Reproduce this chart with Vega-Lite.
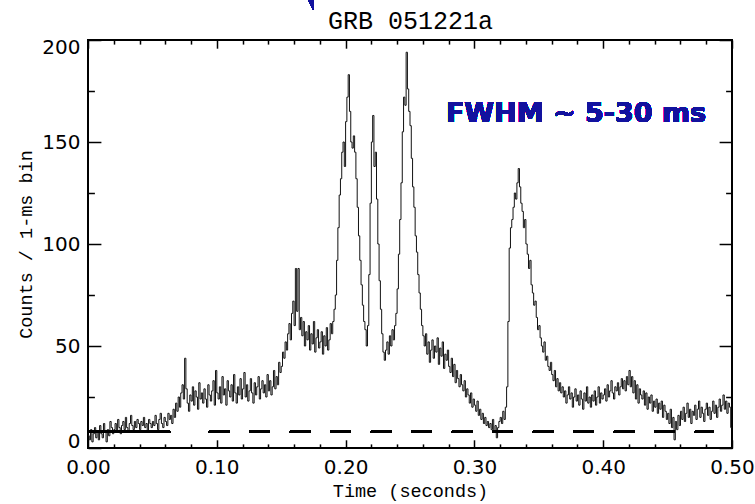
{
"$schema": "https://vega.github.io/schema/vega-lite/v6.json",
"width": 644, "height": 408,
"autosize": {"type": "none"},
"padding": {"left": 88, "top": 40, "right": 23, "bottom": 56},
"background": "white",
"config": {
 "view": {"stroke": "black", "strokeWidth": 2},
 "axis": {"grid": false, "domain": false, "labelFlush": false, "labelOverlap": false, "tickColor": "black", "tickWidth": 1.5, "labelColor": "black", "titleColor": "black", "labelFont": "DejaVu Sans", "labelFontSize": 20, "titleFont": "Liberation Mono", "titleFontSize": 18.5, "titleFontWeight": "normal"}
},
"data": {"values": [
{"t":0.000,"c":6},{"t":0.001,"c":4},{"t":0.002,"c":9},{"t":0.003,"c":3},{"t":0.004,"c":7},{"t":0.005,"c":10},{"t":0.006,"c":5},{"t":0.007,"c":8},{"t":0.008,"c":4},{"t":0.009,"c":11},
{"t":0.010,"c":7},{"t":0.011,"c":5},{"t":0.012,"c":12},{"t":0.013,"c":8},{"t":0.014,"c":3},{"t":0.015,"c":9},{"t":0.016,"c":6},{"t":0.017,"c":13},{"t":0.018,"c":10},{"t":0.019,"c":7},
{"t":0.020,"c":9},{"t":0.021,"c":12},{"t":0.022,"c":8},{"t":0.023,"c":14},{"t":0.024,"c":10},{"t":0.025,"c":7},{"t":0.026,"c":11},{"t":0.027,"c":13},{"t":0.028,"c":9},{"t":0.029,"c":15},
{"t":0.030,"c":10},{"t":0.031,"c":8},{"t":0.032,"c":12},{"t":0.033,"c":16},{"t":0.034,"c":11},{"t":0.035,"c":9},{"t":0.036,"c":13},{"t":0.037,"c":10},{"t":0.038,"c":14},{"t":0.039,"c":12},
{"t":0.040,"c":9},{"t":0.041,"c":13},{"t":0.042,"c":11},{"t":0.043,"c":15},{"t":0.044,"c":10},{"t":0.045,"c":12},{"t":0.046,"c":8},{"t":0.047,"c":14},{"t":0.048,"c":12},{"t":0.049,"c":10},
{"t":0.050,"c":13},{"t":0.051,"c":11},{"t":0.052,"c":16},{"t":0.053,"c":12},{"t":0.054,"c":9},{"t":0.055,"c":14},{"t":0.056,"c":17},{"t":0.057,"c":12},{"t":0.058,"c":10},{"t":0.059,"c":15},
{"t":0.060,"c":13},{"t":0.061,"c":11},{"t":0.062,"c":17},{"t":0.063,"c":14},{"t":0.064,"c":16},{"t":0.065,"c":12},{"t":0.066,"c":19},{"t":0.067,"c":15},{"t":0.068,"c":22},{"t":0.069,"c":18},
{"t":0.070,"c":25},{"t":0.071,"c":20},{"t":0.072,"c":27},{"t":0.073,"c":31},{"t":0.074,"c":24},{"t":0.075,"c":44},{"t":0.076,"c":29},{"t":0.077,"c":22},{"t":0.078,"c":18},{"t":0.079,"c":26},
{"t":0.080,"c":23},{"t":0.081,"c":30},{"t":0.082,"c":21},{"t":0.083,"c":28},{"t":0.084,"c":25},{"t":0.085,"c":19},{"t":0.086,"c":32},{"t":0.087,"c":24},{"t":0.088,"c":27},{"t":0.089,"c":22},
{"t":0.090,"c":29},{"t":0.091,"c":24},{"t":0.092,"c":20},{"t":0.093,"c":31},{"t":0.094,"c":26},{"t":0.095,"c":23},{"t":0.096,"c":28},{"t":0.097,"c":33},{"t":0.098,"c":21},{"t":0.099,"c":38},
{"t":0.100,"c":27},{"t":0.101,"c":24},{"t":0.102,"c":30},{"t":0.103,"c":22},{"t":0.104,"c":35},{"t":0.105,"c":26},{"t":0.106,"c":29},{"t":0.107,"c":21},{"t":0.108,"c":33},{"t":0.109,"c":28},
{"t":0.110,"c":25},{"t":0.111,"c":31},{"t":0.112,"c":23},{"t":0.113,"c":36},{"t":0.114,"c":27},{"t":0.115,"c":22},{"t":0.116,"c":30},{"t":0.117,"c":26},{"t":0.118,"c":34},{"t":0.119,"c":24},
{"t":0.120,"c":29},{"t":0.121,"c":37},{"t":0.122,"c":25},{"t":0.123,"c":31},{"t":0.124,"c":23},{"t":0.125,"c":28},{"t":0.126,"c":34},{"t":0.127,"c":27},{"t":0.128,"c":22},{"t":0.129,"c":32},
{"t":0.130,"c":26},{"t":0.131,"c":30},{"t":0.132,"c":35},{"t":0.133,"c":24},{"t":0.134,"c":29},{"t":0.135,"c":33},{"t":0.136,"c":27},{"t":0.137,"c":31},{"t":0.138,"c":25},{"t":0.139,"c":36},
{"t":0.140,"c":28},{"t":0.141,"c":33},{"t":0.142,"c":26},{"t":0.143,"c":30},{"t":0.144,"c":38},{"t":0.145,"c":29},{"t":0.146,"c":35},{"t":0.147,"c":31},{"t":0.148,"c":42},{"t":0.149,"c":37},
{"t":0.150,"c":40},{"t":0.151,"c":47},{"t":0.152,"c":44},{"t":0.153,"c":52},{"t":0.154,"c":48},{"t":0.155,"c":56},{"t":0.156,"c":61},{"t":0.157,"c":53},{"t":0.158,"c":66},{"t":0.159,"c":72},
{"t":0.160,"c":60},{"t":0.161,"c":88},{"t":0.162,"c":67},{"t":0.163,"c":88},{"t":0.164,"c":58},{"t":0.165,"c":64},{"t":0.166,"c":55},{"t":0.167,"c":62},{"t":0.168,"c":50},{"t":0.169,"c":57},
{"t":0.170,"c":53},{"t":0.171,"c":60},{"t":0.172,"c":48},{"t":0.173,"c":56},{"t":0.174,"c":51},{"t":0.175,"c":62},{"t":0.176,"c":47},{"t":0.177,"c":54},{"t":0.178,"c":58},{"t":0.179,"c":49},
{"t":0.180,"c":52},{"t":0.181,"c":57},{"t":0.182,"c":46},{"t":0.183,"c":55},{"t":0.184,"c":50},{"t":0.185,"c":59},{"t":0.186,"c":48},{"t":0.187,"c":53},{"t":0.188,"c":61},{"t":0.189,"c":56},
{"t":0.190,"c":62},{"t":0.191,"c":68},{"t":0.192,"c":75},{"t":0.193,"c":92},{"t":0.194,"c":108},{"t":0.195,"c":124},{"t":0.196,"c":132},{"t":0.197,"c":145},{"t":0.198,"c":150},{"t":0.199,"c":138},
{"t":0.200,"c":160},{"t":0.201,"c":172},{"t":0.202,"c":183},{"t":0.203,"c":165},{"t":0.204,"c":150},{"t":0.205,"c":147},{"t":0.206,"c":153},{"t":0.207,"c":145},{"t":0.208,"c":132},{"t":0.209,"c":118},
{"t":0.210,"c":104},{"t":0.211,"c":92},{"t":0.212,"c":80},{"t":0.213,"c":70},{"t":0.214,"c":62},{"t":0.215,"c":58},{"t":0.216,"c":50},{"t":0.217,"c":60},{"t":0.218,"c":85},{"t":0.219,"c":120},
{"t":0.220,"c":150},{"t":0.221,"c":163},{"t":0.222,"c":138},{"t":0.223,"c":145},{"t":0.224,"c":122},{"t":0.225,"c":100},{"t":0.226,"c":82},{"t":0.227,"c":68},{"t":0.228,"c":56},{"t":0.229,"c":47},
{"t":0.230,"c":43},{"t":0.231,"c":48},{"t":0.232,"c":52},{"t":0.233,"c":46},{"t":0.234,"c":55},{"t":0.235,"c":50},{"t":0.236,"c":58},{"t":0.237,"c":53},{"t":0.238,"c":60},{"t":0.239,"c":66},
{"t":0.240,"c":78},{"t":0.241,"c":95},{"t":0.242,"c":112},{"t":0.243,"c":130},{"t":0.244,"c":155},{"t":0.245,"c":172},{"t":0.246,"c":168},{"t":0.247,"c":194},{"t":0.248,"c":176},{"t":0.249,"c":165},
{"t":0.250,"c":158},{"t":0.251,"c":142},{"t":0.252,"c":128},{"t":0.253,"c":118},{"t":0.254,"c":104},{"t":0.255,"c":96},{"t":0.256,"c":85},{"t":0.257,"c":76},{"t":0.258,"c":68},{"t":0.259,"c":60},
{"t":0.260,"c":55},{"t":0.261,"c":50},{"t":0.262,"c":56},{"t":0.263,"c":46},{"t":0.264,"c":52},{"t":0.265,"c":42},{"t":0.266,"c":48},{"t":0.267,"c":53},{"t":0.268,"c":44},{"t":0.269,"c":50},
{"t":0.270,"c":47},{"t":0.271,"c":54},{"t":0.272,"c":41},{"t":0.273,"c":49},{"t":0.274,"c":45},{"t":0.275,"c":52},{"t":0.276,"c":39},{"t":0.277,"c":46},{"t":0.278,"c":43},{"t":0.279,"c":48},
{"t":0.280,"c":40},{"t":0.281,"c":37},{"t":0.282,"c":44},{"t":0.283,"c":35},{"t":0.284,"c":41},{"t":0.285,"c":32},{"t":0.286,"c":38},{"t":0.287,"c":34},{"t":0.288,"c":30},{"t":0.289,"c":36},
{"t":0.290,"c":31},{"t":0.291,"c":28},{"t":0.292,"c":33},{"t":0.293,"c":25},{"t":0.294,"c":29},{"t":0.295,"c":26},{"t":0.296,"c":22},{"t":0.297,"c":27},{"t":0.298,"c":20},{"t":0.299,"c":24},
{"t":0.300,"c":21},{"t":0.301,"c":18},{"t":0.302,"c":23},{"t":0.303,"c":16},{"t":0.304,"c":19},{"t":0.305,"c":14},{"t":0.306,"c":17},{"t":0.307,"c":12},{"t":0.308,"c":15},{"t":0.309,"c":11},
{"t":0.310,"c":13},{"t":0.311,"c":10},{"t":0.312,"c":12},{"t":0.313,"c":9},{"t":0.314,"c":14},{"t":0.315,"c":8},{"t":0.316,"c":11},{"t":0.317,"c":5},{"t":0.318,"c":10},{"t":0.319,"c":13},
{"t":0.320,"c":15},{"t":0.321,"c":12},{"t":0.322,"c":18},{"t":0.323,"c":14},{"t":0.324,"c":20},{"t":0.325,"c":30},{"t":0.326,"c":62},{"t":0.327,"c":98},{"t":0.328,"c":108},{"t":0.329,"c":112},
{"t":0.330,"c":118},{"t":0.331,"c":125},{"t":0.332,"c":122},{"t":0.333,"c":130},{"t":0.334,"c":137},{"t":0.335,"c":128},{"t":0.336,"c":120},{"t":0.337,"c":116},{"t":0.338,"c":108},{"t":0.339,"c":112},
{"t":0.340,"c":100},{"t":0.341,"c":95},{"t":0.342,"c":88},{"t":0.343,"c":92},{"t":0.344,"c":80},{"t":0.345,"c":76},{"t":0.346,"c":70},{"t":0.347,"c":72},{"t":0.348,"c":64},{"t":0.349,"c":58},
{"t":0.350,"c":60},{"t":0.351,"c":54},{"t":0.352,"c":50},{"t":0.353,"c":47},{"t":0.354,"c":52},{"t":0.355,"c":43},{"t":0.356,"c":45},{"t":0.357,"c":40},{"t":0.358,"c":38},{"t":0.359,"c":42},
{"t":0.360,"c":36},{"t":0.361,"c":33},{"t":0.362,"c":38},{"t":0.363,"c":30},{"t":0.364,"c":34},{"t":0.365,"c":28},{"t":0.366,"c":32},{"t":0.367,"c":27},{"t":0.368,"c":30},{"t":0.369,"c":25},
{"t":0.370,"c":28},{"t":0.371,"c":22},{"t":0.372,"c":26},{"t":0.373,"c":30},{"t":0.374,"c":24},{"t":0.375,"c":27},{"t":0.376,"c":20},{"t":0.377,"c":25},{"t":0.378,"c":29},{"t":0.379,"c":23},
{"t":0.380,"c":26},{"t":0.381,"c":21},{"t":0.382,"c":28},{"t":0.383,"c":24},{"t":0.384,"c":19},{"t":0.385,"c":27},{"t":0.386,"c":23},{"t":0.387,"c":30},{"t":0.388,"c":22},{"t":0.389,"c":25},
{"t":0.390,"c":20},{"t":0.391,"c":26},{"t":0.392,"c":23},{"t":0.393,"c":28},{"t":0.394,"c":21},{"t":0.395,"c":25},{"t":0.396,"c":30},{"t":0.397,"c":22},{"t":0.398,"c":27},{"t":0.399,"c":24},
{"t":0.400,"c":26},{"t":0.401,"c":29},{"t":0.402,"c":23},{"t":0.403,"c":31},{"t":0.404,"c":25},{"t":0.405,"c":28},{"t":0.406,"c":33},{"t":0.407,"c":27},{"t":0.408,"c":24},{"t":0.409,"c":30},
{"t":0.410,"c":28},{"t":0.411,"c":32},{"t":0.412,"c":26},{"t":0.413,"c":30},{"t":0.414,"c":34},{"t":0.415,"c":29},{"t":0.416,"c":33},{"t":0.417,"c":28},{"t":0.418,"c":35},{"t":0.419,"c":31},
{"t":0.420,"c":38},{"t":0.421,"c":30},{"t":0.422,"c":35},{"t":0.423,"c":27},{"t":0.424,"c":33},{"t":0.425,"c":24},{"t":0.426,"c":31},{"t":0.427,"c":22},{"t":0.428,"c":29},{"t":0.429,"c":26},
{"t":0.430,"c":24},{"t":0.431,"c":28},{"t":0.432,"c":21},{"t":0.433,"c":27},{"t":0.434,"c":19},{"t":0.435,"c":25},{"t":0.436,"c":22},{"t":0.437,"c":26},{"t":0.438,"c":18},{"t":0.439,"c":23},
{"t":0.440,"c":20},{"t":0.441,"c":24},{"t":0.442,"c":17},{"t":0.443,"c":22},{"t":0.444,"c":19},{"t":0.445,"c":23},{"t":0.446,"c":15},{"t":0.447,"c":21},{"t":0.448,"c":18},{"t":0.449,"c":14},
{"t":0.450,"c":17},{"t":0.451,"c":12},{"t":0.452,"c":19},{"t":0.453,"c":10},{"t":0.454,"c":15},{"t":0.455,"c":4},{"t":0.456,"c":13},{"t":0.457,"c":9},{"t":0.458,"c":16},{"t":0.459,"c":11},
{"t":0.460,"c":18},{"t":0.461,"c":14},{"t":0.462,"c":20},{"t":0.463,"c":13},{"t":0.464,"c":17},{"t":0.465,"c":22},{"t":0.466,"c":15},{"t":0.467,"c":19},{"t":0.468,"c":12},{"t":0.469,"c":18},
{"t":0.470,"c":16},{"t":0.471,"c":21},{"t":0.472,"c":14},{"t":0.473,"c":19},{"t":0.474,"c":23},{"t":0.475,"c":15},{"t":0.476,"c":20},{"t":0.477,"c":17},{"t":0.478,"c":13},{"t":0.479,"c":19},
{"t":0.480,"c":22},{"t":0.481,"c":16},{"t":0.482,"c":20},{"t":0.483,"c":14},{"t":0.484,"c":18},{"t":0.485,"c":23},{"t":0.486,"c":17},{"t":0.487,"c":21},{"t":0.488,"c":15},{"t":0.489,"c":20},
{"t":0.490,"c":24},{"t":0.491,"c":18},{"t":0.492,"c":21},{"t":0.493,"c":26},{"t":0.494,"c":19},{"t":0.495,"c":23},{"t":0.496,"c":17},{"t":0.497,"c":22},{"t":0.498,"c":20},{"t":0.499,"c":10},
{"t":0.500,"c":10}
]},
"layer": [
 {"mark": {"type": "line", "interpolate": "step-after", "color": "#111111", "strokeWidth": 1},
  "encoding": {
   "x": {"field": "t", "type": "quantitative", "scale": {"domain": [0, 0.5], "nice": false, "zero": false},
         "axis": {"orient": "bottom", "values": [0, 0.1, 0.2, 0.3, 0.4, 0.5], "format": ".2f", "tickSize": -8.2, "labelPadding": 18, "title": "Time (seconds)", "titlePadding": 4}},
   "y": {"field": "c", "type": "quantitative", "scale": {"domain": [0, 200], "nice": false},
         "axis": {"orient": "left", "values": [0, 50, 100, 150, 200], "labelFlush": true, "labelFlushOffset": 3, "tickSize": -12.9, "labelPadding": 21, "title": "Counts / 1-ms bin", "titlePadding": 6}}
  }},
 {"mark": {"type": "line", "opacity": 0},
  "encoding": {
   "x": {"field": "t", "type": "quantitative", "axis": {"orient": "bottom", "values": [0.02, 0.04, 0.06, 0.08, 0.12, 0.14, 0.16, 0.18, 0.22, 0.24, 0.26, 0.28, 0.32, 0.34, 0.36, 0.38, 0.42, 0.44, 0.46, 0.48], "labels": false, "tickSize": -4.1, "title": null}},
   "y": {"field": "c", "type": "quantitative", "axis": {"orient": "left", "values": [25, 75, 125, 175], "labels": false, "tickSize": -6.4, "title": null}}
  }},
 {"mark": {"type": "line", "opacity": 0},
  "encoding": {
   "x": {"field": "t", "type": "quantitative", "axis": {"orient": "top", "values": [0, 0.1, 0.2, 0.3, 0.4, 0.5], "labels": false, "tickSize": -8.2, "title": "GRB 051221a", "titleFont": "Liberation Mono", "titleFontSize": 25, "titlePadding": 6}},
   "y": {"field": "c", "type": "quantitative", "axis": {"orient": "right", "values": [0, 50, 100, 150, 200], "labels": false, "tickSize": -12.9, "title": null}}
  }},
 {"mark": {"type": "line", "opacity": 0},
  "encoding": {
   "x": {"field": "t", "type": "quantitative", "axis": {"orient": "top", "values": [0.02, 0.04, 0.06, 0.08, 0.12, 0.14, 0.16, 0.18, 0.22, 0.24, 0.26, 0.28, 0.32, 0.34, 0.36, 0.38, 0.42, 0.44, 0.46, 0.48], "labels": false, "tickSize": -4.1, "title": null}},
   "y": {"field": "c", "type": "quantitative", "axis": {"orient": "right", "values": [25, 75, 125, 175], "labels": false, "tickSize": -6.4, "title": null}}
  }},
 {"mark": {"type": "rule", "color": "black", "strokeWidth": 2},
  "encoding": {"x": {"datum": 0, "axis": null}, "x2": {"datum": 0.0637}, "y": {"datum": 8, "axis": null}}},
 {"mark": {"type": "rule", "color": "black", "strokeWidth": 2, "strokeDash": [20.3, 20.2]},
  "encoding": {"x": {"datum": 0.0939, "axis": null}, "x2": {"datum": 0.4856}, "y": {"datum": 8, "axis": null}}},
 {"mark": {"type": "text", "text": "FWHM ~ 5-30 ms", "font": "DejaVu Sans", "fontWeight": "bold", "fontSize": 27, "color": "#12129e", "align": "center", "baseline": "middle"},
  "encoding": {"x": {"datum": 0.3789, "axis": null}, "y": {"datum": 163.5, "axis": null}}},
 {"mark": {"type": "point", "shape": "M -0.75 -1.6 L 0.75 -1.6 L 0.55 1 Z", "filled": true, "color": "#12129e", "opacity": 1, "size": 300},
  "encoding": {"x": {"datum": 0.171, "axis": null}, "y": {"datum": 219, "axis": null}}}
],
"resolve": {"axis": {"x": "independent", "y": "independent"}}
}
